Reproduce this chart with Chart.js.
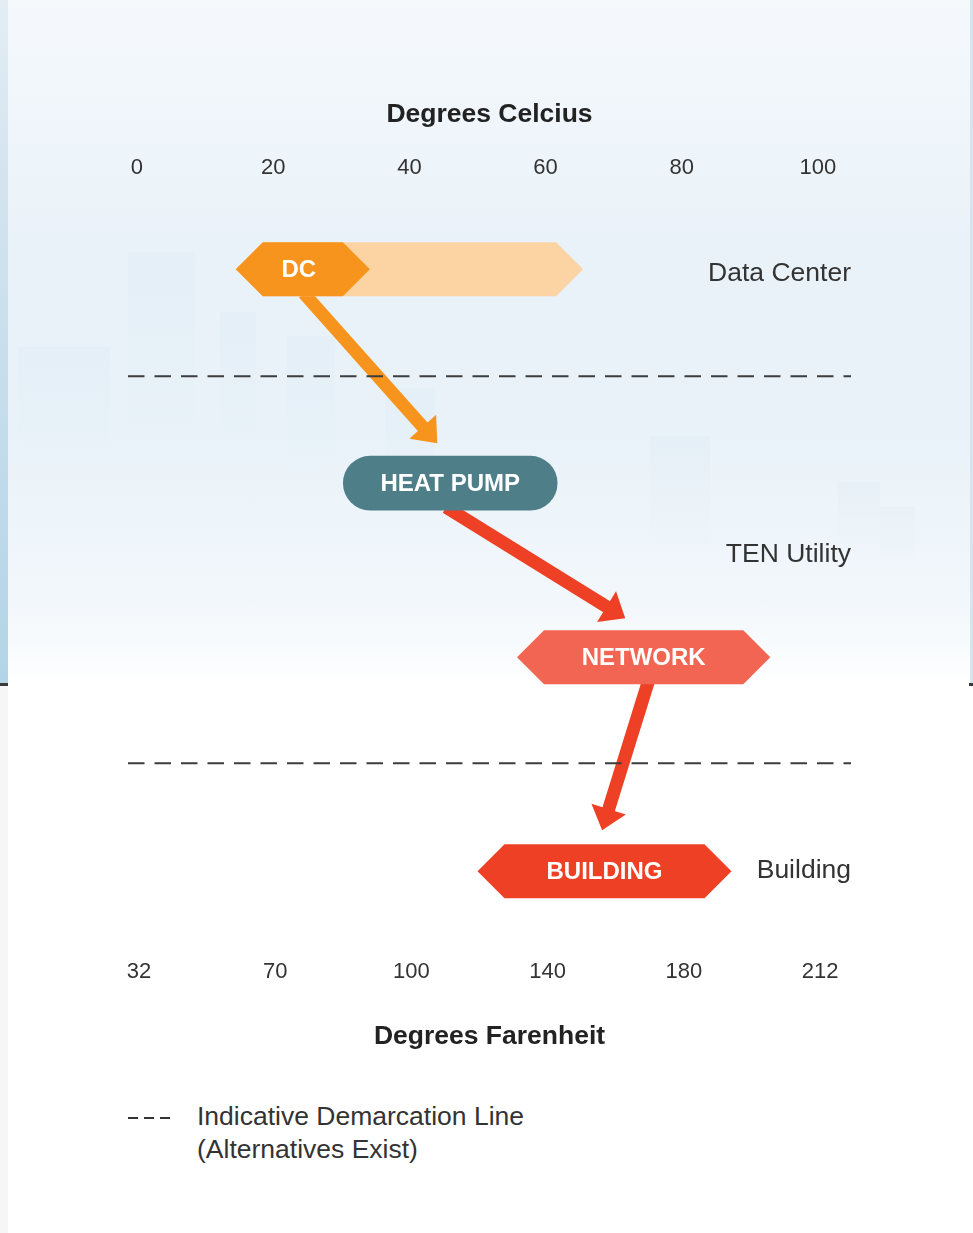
<!DOCTYPE html>
<html>
<head>
<meta charset="utf-8">
<script src="https://cdn.jsdelivr.net/npm/chart.js@4.4.1/dist/chart.umd.min.js"></script>
<style>
  html, body { margin: 0; padding: 0; background: #fff; }
  body { width: 973px; height: 1233px; position: relative; overflow: hidden;
         font-family: "Liberation Sans", Arial, sans-serif; }
  .sky { position: absolute; left: 0; top: 0; width: 973px; height: 683px;
         background: linear-gradient(to bottom, #f5f9fc 0px, #eaf2f9 240px, #e9f2f9 430px, #f2f7fb 600px, #fbfdfe 665px, #ffffff 683px); }
  .tower { position: absolute; background: linear-gradient(to bottom, rgba(170, 200, 215, 0.07), rgba(170, 200, 215, 0.0)); }
  .strip-l { position: absolute; left: 0; top: 0; width: 8px; height: 683px;
             background: linear-gradient(to bottom, #e4edf4 0px, #d3e4ef 180px, #b3d4e7 683px); }
  .strip-l2 { position: absolute; left: 0; top: 686px; width: 8px; height: 547px; background: #f6f6f6; }
  .strip-r { position: absolute; left: 970px; top: 0; width: 3px; height: 683px; background: #d5e5f0; }
  .rule-l { position: absolute; left: 0; top: 683px; width: 8px; height: 3px; background: #3a3a3a; }
  .rule-r { position: absolute; left: 969px; top: 683px; width: 4px; height: 3px; background: #3a3a3a; }
  #chart { position: absolute; left: 0; top: 0; }
  .key-dash { position: absolute; left: 128px; top: 1117px; width: 42px; height: 2px;
              background: repeating-linear-gradient(to right, #333 0 10px, transparent 10px 16px); }
  .key-text { position: absolute; left: 197px; top: 1100px; font-size: 26.5px; line-height: 33px; color: #333; }
</style>
</head>
<body>
<div class="sky"></div>
<div class="tower" style="left:128px;top:252px;width:67px;height:200px"></div>
<div class="tower" style="left:18px;top:347px;width:92px;height:110px"></div>
<div class="tower" style="left:220px;top:312px;width:36px;height:140px"></div>
<div class="tower" style="left:287px;top:336px;width:48px;height:150px"></div>
<div class="tower" style="left:385px;top:388px;width:50px;height:130px"></div>
<div class="tower" style="left:650px;top:436px;width:60px;height:120px"></div>
<div class="tower" style="left:838px;top:482px;width:42px;height:75px"></div>
<div class="tower" style="left:880px;top:507px;width:35px;height:60px"></div>
<div class="strip-l"></div>
<div class="strip-l2"></div>
<div class="strip-r"></div>
<div class="rule-l"></div>
<div class="rule-r"></div>
<canvas id="chart" width="973" height="1080"></canvas>
<div class="key-dash"></div>
<div class="key-text">Indicative Demarcation Line<br>(Alternatives Exist)</div>

<script>
// temperature ranges per stage, in degrees Celsius
const stages = ['DC', 'HEAT PUMP', 'NETWORK', 'BUILDING'];
const stageFrom = [14.5, 30.3, 55.8, 50];
const stageTo = [34.2, 61.7, 93, 87.3];
const stageLevel = [7.8, 29.2, 46.6, 68.0];
const dcReach = [14.5, 65.5];

// zones and the dashed boundaries between them
const zoneNames = ['Data Center', 'TEN Utility', 'Building'];
const zoneLevel = [8.2, 36.3, 67.9];
const demarcationLevel = [18.5, 57.2];

const celsiusTicks = [0, 20, 40, 60, 80, 100];
const fahrenheitTicks = [32, 70, 100, 140, 180, 212];

// heat flow arrows: [celsius, level] start and end
const flowFrom = [[24.5, 10.2], [45.4, 31.6], [75.1, 49.0]];
const flowTo = [[44.1, 25.2], [71.7, 42.7], [68.3, 63.9]];

const X_MIN = -1.32, X_MAX = 104.85;
const FONT = '"Liberation Sans", Arial, sans-serif';
const STAGE_COLORS = ['#f7941d', '#4e7f88', '#f26552', '#ee4024'];
const STAGE_SHAPE = ['hex', 'pill', 'hex', 'hex'];
const FLOW_COLORS = ['#f7941d', '#ee4024', '#ee4024'];

Chart.defaults.font.family = FONT;

function hexPath(ctx, left, right, cy, h) {
  const d = h / 2;
  ctx.beginPath();
  ctx.moveTo(left, cy);
  ctx.lineTo(left + d, cy - d);
  ctx.lineTo(right - d, cy - d);
  ctx.lineTo(right, cy);
  ctx.lineTo(right - d, cy + d);
  ctx.lineTo(left + d, cy + d);
  ctx.closePath();
}

const flowArrows = {
  id: 'flowArrows',
  beforeDatasetsDraw(chart) {
    const { ctx, scales: { x, y } } = chart;
    flowFrom.forEach((p, i) => {
      const x0 = x.getPixelForValue(p[0]), y0 = y.getPixelForValue(p[1]);
      const x1 = x.getPixelForValue(flowTo[i][0]), y1 = y.getPixelForValue(flowTo[i][1]);
      const a = Math.atan2(y1 - y0, x1 - x0);
      const head = 22, half = 18;
      const bx = x1 - head * Math.cos(a), by = y1 - head * Math.sin(a);
      ctx.save();
      ctx.strokeStyle = FLOW_COLORS[i];
      ctx.fillStyle = FLOW_COLORS[i];
      ctx.lineWidth = 13;
      ctx.beginPath();
      ctx.moveTo(x0, y0);
      ctx.lineTo(bx + 3 * Math.cos(a), by + 3 * Math.sin(a));
      ctx.stroke();
      ctx.beginPath();
      ctx.moveTo(x1, y1);
      ctx.lineTo(bx - half * Math.sin(a), by + half * Math.cos(a));
      ctx.lineTo(bx + half * Math.sin(a), by - half * Math.cos(a));
      ctx.closePath();
      ctx.fill();
      ctx.restore();
    });
  }
};

const stageShapes = {
  id: 'stageShapes',
  afterDatasetsDraw(chart) {
    const { ctx } = chart;
    chart.data.datasets.forEach((ds, di) => {
      if (!ds.hexFill) return;
      chart.getDatasetMeta(di).data.forEach((el, i) => {
        const { x, y, base, height } = el.getProps(['x', 'y', 'base', 'height'], true);
        const left = Math.min(x, base), right = Math.max(x, base);
        if (ds.hexFill[i]) {
          ctx.save();
          ctx.fillStyle = ds.hexFill[i];
          hexPath(ctx, left, right, y, height);
          ctx.fill();
          ctx.restore();
        }
        if (ds.names) {
          ctx.save();
          ctx.fillStyle = '#ffffff';
          ctx.font = 'bold 24px ' + FONT;
          ctx.textAlign = 'center';
          ctx.textBaseline = 'middle';
          ctx.fillText(ds.names[i], (left + right) / 2 - (i === 0 ? 4 : 0), y + 1);
          ctx.restore();
        }
      });
    });
  }
};

const demarcationSets = demarcationLevel.map(lvl => ({
  type: 'line',
  data: [{ x: X_MIN, y: lvl }, { x: X_MAX, y: lvl }],
  borderColor: '#3d3d3d',
  borderWidth: 2,
  borderDash: [16.5, 10],
  pointRadius: 0,
  xAxisID: 'x',
  yAxisID: 'y'
}));

new Chart(document.getElementById('chart'), {
  type: 'bar',
  data: {
    datasets: [
      {
        label: 'DC reach',
        data: [{ y: stageLevel[0], x: dcReach }],
        backgroundColor: 'rgba(0,0,0,0)',
        hexFill: ['#fcd4a3'],
        barThickness: 54,
        grouped: false
      },
      {
        label: 'Stages',
        data: stages.map((s, i) => ({ y: stageLevel[i], x: [stageFrom[i], stageTo[i]] })),
        backgroundColor: STAGE_COLORS.map((c, i) => STAGE_SHAPE[i] === 'pill' ? c : 'rgba(0,0,0,0)'),
        hexFill: STAGE_COLORS.map((c, i) => STAGE_SHAPE[i] === 'hex' ? c : null),
        names: stages,
        borderRadius: 27,
        borderSkipped: false,
        barThickness: 54,
        grouped: false
      },
      ...demarcationSets
    ]
  },
  options: {
    indexAxis: 'y',
    responsive: false,
    animation: false,
    layout: { padding: { left: 128, right: 122, top: 99, bottom: 27 } },
    plugins: { legend: { display: false }, tooltip: { enabled: false } },
    scales: {
      x: {
        type: 'linear', position: 'top', min: X_MIN, max: X_MAX,
        afterBuildTicks: s => { s.ticks = celsiusTicks.map(v => ({ value: v })); },
        grid: { display: false, drawTicks: false },
        border: { display: false },
        ticks: { font: { size: 22 }, color: '#333', padding: 10, maxRotation: 0, autoSkip: false },
        title: { display: true, text: 'Degrees Celcius', color: '#222',
                 font: { size: 26.5, weight: 'bold' }, padding: { top: 0, bottom: 14 } }
      },
      x2: {
        type: 'linear', position: 'bottom', min: X_MIN - 0.3, max: X_MAX - 0.3,
        afterBuildTicks: s => { s.ticks = celsiusTicks.map(v => ({ value: v })); },
        grid: { display: false, drawTicks: false },
        border: { display: false },
        ticks: { font: { size: 22 }, color: '#333', padding: 10, maxRotation: 0, autoSkip: false,
                 callback: (v, i) => fahrenheitTicks[i] },
        title: { display: true, text: 'Degrees Farenheit', color: '#222',
                 font: { size: 26.5, weight: 'bold' }, padding: { top: 26, bottom: 0 } }
      },
      y: {
        type: 'linear', position: 'right', reverse: true, min: 0, max: 75.76, offset: false,
        afterBuildTicks: s => { s.ticks = zoneLevel.map(v => ({ value: v })); },
        grid: { display: false, drawTicks: false, offset: false },
        border: { display: false },
        ticks: { mirror: true, padding: 0, font: { size: 26.5 }, color: '#333', autoSkip: false,
                 callback: (v, i) => zoneNames[i] }
      }
    }
  },
  plugins: [flowArrows, stageShapes]
});
</script>
</body>
</html>
